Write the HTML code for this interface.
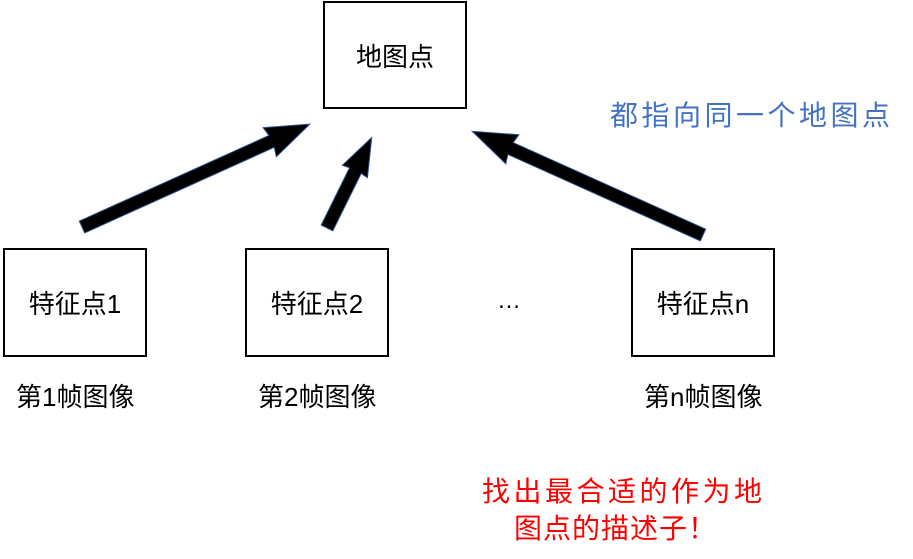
<!DOCTYPE html>
<html><head><meta charset="utf-8"><style>
body{margin:0;width:913px;height:559px;background:#fff;position:relative;overflow:hidden;font-family:"Liberation Sans","Noto Sans CJK SC",sans-serif;}
.box{position:absolute;border:2.5px solid #000;box-sizing:border-box;display:flex;align-items:center;justify-content:center;font-size:26px;color:#000;}
.t{position:absolute;white-space:nowrap;}
</style></head><body>
<div class="box" style="left:323px;top:1px;width:144px;height:108px;">地图点</div>
<div class="box" style="left:3px;top:248px;width:144px;height:109px;">特征点1</div>
<div class="box" style="left:245px;top:248px;width:144px;height:109px;">特征点2</div>
<div class="box" style="left:631px;top:248px;width:144px;height:109px;">特征点n</div>
<div class="t" style="left:497px;top:287px;font-size:24px;">…</div>
<div class="t" style="left:16px;top:377px;font-size:26px;">第1帧图像</div>
<div class="t" style="left:258px;top:377px;font-size:26px;">第2帧图像</div>
<div class="t" style="left:644px;top:377px;font-size:26px;">第n帧图像</div>
<div class="t" style="left:610px;top:94px;font-size:28px;letter-spacing:3.5px;color:#4472C4;">都指向同一个地图点</div>
<div class="t" style="left:482px;top:470px;font-size:28px;letter-spacing:3.5px;color:#f00;">找出最合适的作为地</div>
<div class="t" style="left:514px;top:507px;font-size:28px;letter-spacing:1px;color:#f00;">图点的描述子！</div>
<svg width="913" height="559" style="position:absolute;left:0;top:0">
<g fill="#000" stroke="#2F528F" stroke-width="1">
<polygon transform="translate(82,227) rotate(-24.3)" points="0,-6.5 208,-6.5 206,-16 250,0 206,16 208,6.5 0,6.5"/>
<polygon transform="translate(327,228) rotate(-63.7)" points="0,-6.5 64,-6.5 63,-14 101,0 63,14 64,6.5 0,6.5"/>
<polygon transform="translate(703,235) rotate(204.2)" points="0,-6.5 211,-6.5 209,-16 253,0 209,16 211,6.5 0,6.5"/>
</g></svg>
</body></html>
